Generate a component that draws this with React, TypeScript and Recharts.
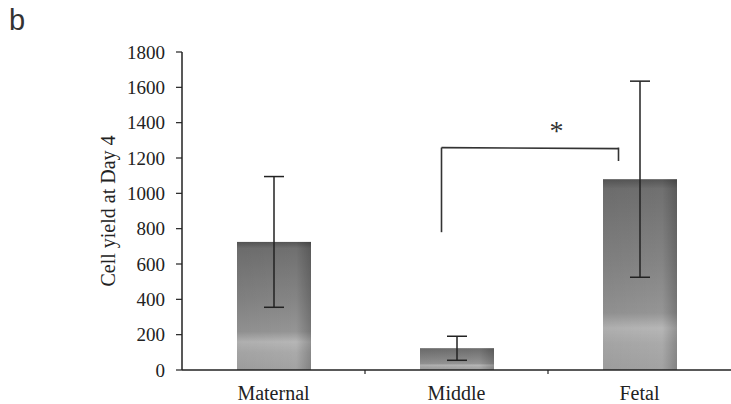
import React from "react";
import {
  BarChart,
  Bar,
  XAxis,
  YAxis,
  ErrorBar,
  ReferenceLine,
} from "recharts";

const categories = ["Maternal", "Middle", "Fetal"];
const cellYield = [725, 123, 1080];
const yieldSd = [370, 68, 555];
const yTicks = [0, 200, 400, 600, 800, 1000, 1200, 1400, 1600, 1800];

// significance bracket between Middle and Fetal
const bracketTop = 1259;
const bracketLeftEnd = 780;
const bracketRightEnd = 1183;

const data = categories.map((name, i) => ({
  name,
  value: cellYield[i],
  err: yieldSd[i],
}));

const ink = "#222";
const serif = "'Liberation Serif', 'Times New Roman', serif";

// shifts a reference segment sideways so it sits left of the bar centre
const shifted = (dx1: number, dx2: number) => (p: any) => (
  <line
    x1={p.x1 + dx1}
    y1={p.y1}
    x2={p.x2 + dx2}
    y2={p.y2}
    stroke="#333"
    strokeWidth={1.6}
  />
);

const bracketTopShape = (p: any) => (
  <g>
    <line
      x1={p.x1 - 15}
      y1={p.y1}
      x2={p.x2 - 21}
      y2={p.y2 + 1}
      stroke="#333"
      strokeWidth={1.6}
    />
    <text
      x={p.x2 - 83}
      y={p.y1 - 8}
      textAnchor="middle"
      fontSize={28}
      fontFamily={serif}
      fill="#333"
    >
      *
    </text>
  </g>
);

const CategoryTick = (props: any) => {
  const { x, y, payload, index, visibleTicksCount } = props;
  const last = index >= visibleTicksCount - 1;
  return (
    <g>
      <text
        x={x}
        y={y + 30}
        textAnchor="middle"
        fontSize={20}
        fontFamily={serif}
        fill={ink}
      >
        {payload.value}
      </text>
      {!last && (
        <line
          x1={x + payload.offset}
          x2={x + payload.offset}
          y1={y}
          y2={y + 4}
          stroke={ink}
          strokeWidth={1.2}
        />
      )}
    </g>
  );
};

const BarShape = (p: any) => {
  const { x, y, width, height } = p;
  if (!height || height <= 0) return null;
  return (
    <g>
      <rect x={x} y={y} width={width} height={height} fill="url(#barV)" />
      <rect x={x} y={y} width={width} height={height} fill="url(#barH)" />
    </g>
  );
};

const YLabel = (props: any) => {
  const { viewBox } = props;
  const cx = viewBox.x + 108;
  const cy = viewBox.y + viewBox.height / 2;
  return (
    <text
      x={cx}
      y={cy}
      transform={`rotate(-90 ${cx} ${cy})`}
      textAnchor="middle"
      dominantBaseline="central"
      fontSize={20}
      fontFamily={serif}
      fill={ink}
    >
      Cell yield at Day 4
    </text>
  );
};

export default function App() {
  return (
    <div
      style={{
        position: "absolute",
        left: 0,
        top: 0,
        width: 731,
        height: 404,
        background: "#fff",
        overflow: "hidden",
      }}
    >
      <div
        style={{
          position: "absolute",
          left: 9,
          top: 6,
          fontFamily: "'Liberation Sans', Arial, sans-serif",
          fontSize: 29,
          color: "#333",
          lineHeight: 1,
        }}
      >
        b
      </div>
      <BarChart
        width={731}
        height={404}
        data={data}
        margin={{ top: 52, right: 0, bottom: 4, left: 0 }}
      >
        <defs>
          <linearGradient id="barV" x1="0" y1="0" x2="0" y2="1">
            <stop offset="0" stopColor="#555" />
            <stop offset="0.05" stopColor="#707070" />
            <stop offset="0.45" stopColor="#858585" />
            <stop offset="0.7" stopColor="#959595" />
            <stop offset="0.78" stopColor="#b6b6b6" />
            <stop offset="0.86" stopColor="#aaa" />
            <stop offset="1" stopColor="#a2a2a2" />
          </linearGradient>
          <linearGradient id="barH" x1="0" y1="0" x2="1" y2="0">
            <stop offset="0" stopColor="#000" stopOpacity={0.04} />
            <stop offset="0.8" stopColor="#000" stopOpacity={0} />
            <stop offset="1" stopColor="#000" stopOpacity={0.2} />
          </linearGradient>
        </defs>
        <XAxis
          dataKey="name"
          height={30}
          tickLine={false}
          tickSize={0}
          tickMargin={0}
          axisLine={{ stroke: ink, strokeWidth: 1.5 }}
          tick={<CategoryTick />}
          interval={0}
        />
        <YAxis
          width={182}
          domain={[0, 1800]}
          ticks={yTicks}
          interval={0}
          tickSize={6}
          tickMargin={11}
          tickLine={{ stroke: ink, strokeWidth: 1.2 }}
          axisLine={{ stroke: ink, strokeWidth: 1.5 }}
          tick={{ fontSize: 19, fontFamily: serif, fill: ink }}
          label={{ content: <YLabel /> }}
        />
        <Bar
          dataKey="value"
          barSize={74}
          shape={<BarShape />}
          isAnimationActive={false}
        >
          <ErrorBar
            dataKey="err"
            width={10}
            stroke={ink}
            strokeWidth={1.5}
            isAnimationActive={false}
          />
        </Bar>
        <ReferenceLine
          segment={[
            { x: "Middle", y: bracketLeftEnd },
            { x: "Middle", y: bracketTop },
          ]}
          ifOverflow="visible"
          shape={shifted(-15, -15)}
        />
        <ReferenceLine
          segment={[
            { x: "Fetal", y: bracketRightEnd },
            { x: "Fetal", y: bracketTop },
          ]}
          ifOverflow="visible"
          shape={shifted(-21, -21)}
        />
        <ReferenceLine
          segment={[
            { x: "Middle", y: bracketTop },
            { x: "Fetal", y: bracketTop },
          ]}
          ifOverflow="visible"
          shape={bracketTopShape}
        />
      </BarChart>
    </div>
  );
}
